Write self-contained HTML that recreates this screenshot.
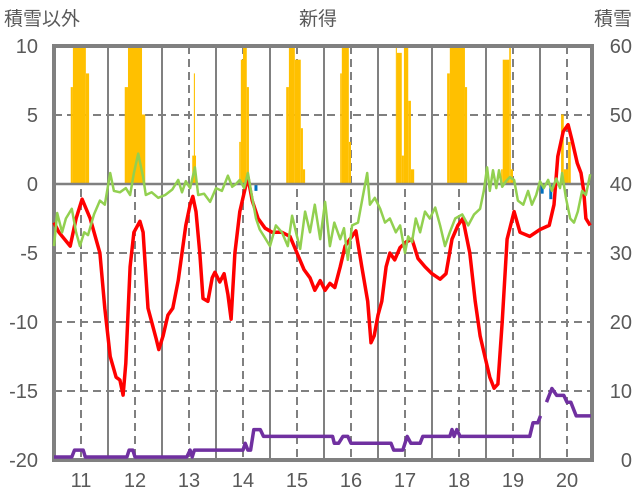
<!DOCTYPE html>
<html><head><meta charset="utf-8"><style>
body{margin:0;background:#fff;}
svg{display:block;font-family:"Liberation Sans","Noto Sans CJK JP",sans-serif;}
</style></head><body>
<svg id="chart" width="636" height="501" viewBox="0 0 636 501" xmlns="http://www.w3.org/2000/svg">
<text x="4" y="25" font-size="19" fill="#595959">積雪以外</text>
<text x="318" y="25" font-size="19" fill="#595959" text-anchor="middle">新得</text>
<text x="632" y="25" font-size="19" fill="#595959" text-anchor="end">積雪</text>
<g id="grid"></g>
<g id="marks"></g>
<g id="axes"></g>
</svg>
<script>
const yearLabels=[11,12,13,14,15,16,17,18,19,20];
const leftTicks=[10,5,0,-5,-10,-15,-20];
const rightTicks=[60,50,40,30,20,10,0];
const redT=[10.50,10.59,10.80,10.91,11.02,11.17,11.35,11.44,11.54,11.65,11.72,11.78,11.83,11.91,11.98,12.09,12.15,12.24,12.31,12.39,12.44,12.52,12.61,12.70,12.80,12.87,12.94,13.02,13.07,13.13,13.20,13.26,13.35,13.43,13.48,13.57,13.65,13.72,13.78,13.85,13.94,14.04,14.09,14.17,14.28,14.41,14.54,14.72,14.87,15.00,15.13,15.24,15.33,15.43,15.52,15.61,15.70,15.80,15.89,15.98,16.09,16.20,16.31,16.37,16.43,16.50,16.57,16.65,16.72,16.81,16.91,17.02,17.13,17.24,17.37,17.50,17.65,17.76,17.87,17.98,18.07,18.20,18.30,18.39,18.48,18.57,18.65,18.72,18.80,18.89,19.02,19.13,19.31,19.50,19.67,19.76,19.83,19.93,20.02,20.09,20.19,20.26,20.31,20.35,20.43];
const redV=[-2.8,-3.5,-4.5,-2.5,-1.1,-2.5,-5,-9,-12.5,-14,-14.2,-15.3,-13,-6,-3.5,-2.7,-3.5,-9,-10,-11.2,-12,-11,-9.5,-9,-7,-5,-3,-1.5,-0.9,-2,-5,-8.3,-8.5,-6.8,-6.4,-7.1,-6.5,-8,-9.8,-5,-2,-0.3,0.5,-1.2,-2.5,-3.2,-3.5,-3.5,-3.8,-5,-6.2,-6.8,-7.7,-7,-7.7,-7.2,-7.5,-6,-4.5,-4,-3.4,-6,-8.5,-11.5,-11,-9.5,-8.5,-6,-5,-5.5,-4.6,-4.2,-4,-5.4,-6,-6.5,-6.9,-6.5,-4,-3,-2.5,-5,-8.5,-11,-12.5,-14,-14.8,-14.5,-10,-4,-2,-3.5,-3.8,-3.3,-3,-1.5,2,3.8,4.3,3.2,1.5,0.8,-0.5,-2.5,-3];
const greenT=[10.50,10.56,10.65,10.72,10.83,10.91,10.98,11.06,11.13,11.24,11.35,11.44,11.54,11.61,11.72,11.83,11.91,11.98,12.06,12.15,12.20,12.31,12.43,12.56,12.69,12.80,12.87,12.94,13.02,13.11,13.17,13.28,13.39,13.50,13.61,13.72,13.80,13.87,13.94,14.02,14.09,14.17,14.24,14.31,14.39,14.50,14.61,14.72,14.83,14.91,15.00,15.06,15.15,15.24,15.33,15.43,15.52,15.61,15.69,15.80,15.87,15.94,16.02,16.13,16.20,16.30,16.35,16.44,16.54,16.63,16.72,16.83,16.91,17.00,17.06,17.13,17.20,17.28,17.37,17.46,17.56,17.65,17.74,17.83,17.93,18.06,18.17,18.28,18.39,18.46,18.52,18.57,18.63,18.69,18.74,18.80,18.87,18.94,19.02,19.09,19.19,19.28,19.35,19.43,19.50,19.57,19.65,19.72,19.80,19.87,19.91,19.98,20.06,20.13,20.20,20.28,20.35,20.43];
const greenV=[-4.5,-2.1,-3.5,-2.5,-1.8,-3.5,-4.5,-3.5,-3.7,-2.2,-1.2,-1.5,0.8,-0.5,-0.6,-0.3,-0.8,0.8,2.2,0.5,-0.8,-0.6,-1,-0.8,-0.4,0.3,-0.6,0.2,-0.3,1.2,-0.8,-0.7,-1.3,-0.3,-0.5,0.6,-0.2,0,0.3,-0.3,0.8,-1,-2.5,-3.3,-3.8,-4.5,-3,-3.5,-4.5,-2.3,-3.8,-4.7,-2,-3.5,-1.5,-4,-1.3,-4.5,-2.8,-4,-3.2,-5.5,-3,-2.8,-1.3,0.8,-1.5,-1,-1.8,-2.8,-2.5,-3.5,-3,-5,-3.8,-4.2,-2.5,-3.5,-2,-2.5,-1.7,-3,-4.5,-3.5,-2.5,-2.2,-3,-2.2,-1.8,-0.5,1.2,-0.5,1,-0.3,1,-0.2,0.2,0.5,0.3,-1.2,-1.5,-0.5,-1.5,-0.8,0.2,-0.3,0.3,-0.5,0.4,-0.3,0.8,-1,-2.5,-2.8,-2,-0.5,-0.8,0.7];
const purpleT=[10.50,10.83,10.88,11.04,11.08,11.85,11.89,11.96,12.00,12.96,13.02,13.06,13.10,14.00,14.04,14.09,14.14,14.20,14.32,14.38,15.66,15.69,15.77,15.85,15.94,16.00,16.74,16.79,16.96,17.04,17.11,17.28,17.33,17.83,17.87,17.91,17.96,18.02,19.31,19.37,19.46,19.51,19.56,19.62,19.72,19.81,19.94,20.00,20.07,20.17,20.44];
const purpleV=[0,0,1,1,0,0,1,1,0,0,1,0,1,1,2,1,1,4,4,3,3,2,2,3,3,2,2,1,1,3,2,2,3,3,4,3,4,3,3,5,5,6,null,8,10,9,9,8,8,6,6];
const snowStart=[10.81,10.85,11.09,11.81,11.87,12.13,13.06,13.09,13.93,13.96,14.00,14.07,14.80,14.85,14.96,15.00,15.07,15.11,15.80,15.83,15.96,16.83,16.85,16.94,16.98,17.06,17.11,17.78,17.83,18.11,18.78,18.81,18.93,18.96,19.89,19.94,20.02];
const snowEnd=[10.85,11.09,11.15,11.87,12.13,12.19,13.13,13.11,13.96,14.00,14.07,14.11,14.85,14.96,15.00,15.07,15.11,15.15,15.83,15.96,16.00,16.85,16.94,16.98,17.06,17.11,17.17,17.83,18.11,18.15,18.81,18.93,18.96,19.00,19.94,20.02,20.07];
const snowV=[54,60,56,54,60,50,44,56,46,58,60,54,54,60,58,58,48,42,56,60,46,60,59,44,60,52,42,56,60,54,42,58,60,42,50,42,46];
const blueT=[14.24,19.54,19.70];
const blueV=[-0.5,-0.7,-1.1];

const X0=54,X1=592,YT=46,YB=460;
const xs=t=>81+(t-11)*54;
const yl=v=>184-v*13.8;
const yr=v=>457-v*6.85;
const NS='http://www.w3.org/2000/svg';
function mk(tag,parent){const e=document.createElementNS(NS,tag);parent.appendChild(e);return e;}
const grid=document.getElementById('grid'),marks=document.getElementById('marks'),axes=document.getElementById('axes');

leftTicks.forEach(v=>{
  if(v===10||v===-20||v===0)return;
  const l=mk('line',grid);
  
  
  l.setAttribute('x1',X0);l.setAttribute('x2',X1);l.setAttribute('y1',yl(v));l.setAttribute('y2',yl(v));
  l.setAttribute('stroke','#808080');l.setAttribute('stroke-width','2');l.setAttribute('stroke-dasharray','8 5');
});
yearLabels.forEach(y=>{
  const d=mk('line',grid);
  
  
  d.setAttribute('x1',xs(y));d.setAttribute('x2',xs(y));d.setAttribute('y1',YT);d.setAttribute('y2',YB);
  d.setAttribute('stroke','#808080');d.setAttribute('stroke-width','2');d.setAttribute('stroke-dasharray','8 5');
  const xb=xs(y+0.5);
  if(xb<X1-3){
    const s=mk('line',grid);
    
    
    s.setAttribute('x1',xb);s.setAttribute('x2',xb);s.setAttribute('y1',YT);s.setAttribute('y2',YB);
    s.setAttribute('stroke','#808080');s.setAttribute('stroke-width','2');
  }
});
const fr=mk('rect',grid);


fr.setAttribute('x',X0);fr.setAttribute('y',YT);fr.setAttribute('width',X1-X0);fr.setAttribute('height',YB-YT);
fr.setAttribute('fill','none');fr.setAttribute('stroke','#808080');fr.setAttribute('stroke-width','4');

snowV.forEach((v,i)=>{
  const r=mk('rect',marks);
  
  
  const a=xs(snowStart[i]),b=xs(snowEnd[i]);
  r.setAttribute('x',a);r.setAttribute('width',Math.max(1,b-a));
  r.setAttribute('y',Math.max(YT+2,yr(v)));r.setAttribute('height',yl(0)-Math.max(YT+2,yr(v)));
  r.setAttribute('fill','#ffc000');
});
blueV.forEach((v,i)=>{
  const r=mk('rect',marks);
  
  
  r.setAttribute('x',xs(blueT[i])-1.5);r.setAttribute('width',3);
  r.setAttribute('y',yl(0));r.setAttribute('height',yl(v)-yl(0));
  r.setAttribute('fill','#0070c0');
});
const zero=mk('line',marks);


zero.setAttribute('x1',X0);zero.setAttribute('x2',X1);zero.setAttribute('y1',yl(0));zero.setAttribute('y2',yl(0));
zero.setAttribute('stroke','#808080');zero.setAttribute('stroke-width','2.5');

function line(T,V,yf,color,w,name){
  let d='',pen=false;
  T.forEach((t,i)=>{
    if(V[i]===null){pen=false;return;}
    d+=(pen?'L':'M')+xs(t).toFixed(1)+' '+yf(V[i]).toFixed(1)+' ';pen=true;
  });
  const p=mk('path',marks);
  
  
  p.setAttribute('d',d);p.setAttribute('fill','none');p.setAttribute('stroke',color);
  p.setAttribute('stroke-width',w);p.setAttribute('stroke-linejoin','round');
}
line(redT,redV,yl,'#ff0000',3.5,'red-series-line');
line(greenT,greenV,yl,'#92d050',2.5,'green-series-line');
line(purpleT,purpleV,yr,'#7030a0',3.5,'purple-snow-line');

leftTicks.forEach(v=>{
  const t=mk('text',axes);
  
  
  t.setAttribute('x',38);t.setAttribute('y',yl(v)+7);t.setAttribute('text-anchor','end');
  t.setAttribute('font-size','20');t.setAttribute('fill','#595959');t.textContent=v;
});
rightTicks.forEach(v=>{
  const t=mk('text',axes);
  
  
  t.setAttribute('x',632);t.setAttribute('y',460-v*6.9+7);t.setAttribute('text-anchor','end');
  t.setAttribute('font-size','20');t.setAttribute('fill','#595959');t.textContent=v;
});
yearLabels.forEach(y=>{
  const t=mk('text',axes);
  
  
  t.setAttribute('x',xs(y));t.setAttribute('y',487);t.setAttribute('text-anchor','middle');
  t.setAttribute('font-size','20');t.setAttribute('fill','#595959');t.textContent=y;
});
</script>
</body></html>
